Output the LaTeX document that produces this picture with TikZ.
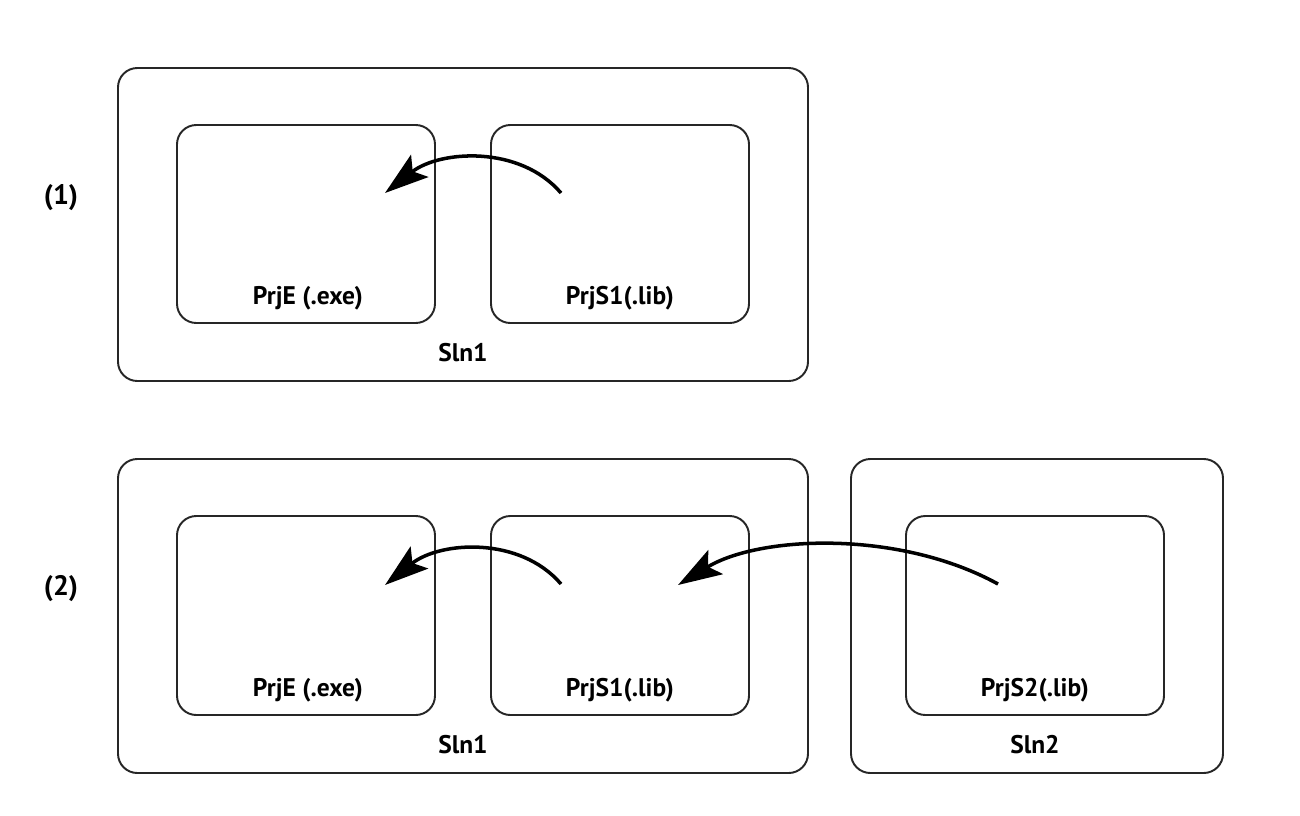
\documentclass[tikz,border=0pt]{standalone}
\usepackage{fontspec}
\setmainfont{PT Sans}
\usetikzlibrary{arrows.meta}
\begin{document}
\begin{tikzpicture}[x=0.02cm,y=-0.02cm,
  box/.style={draw=black!85,line width=1.1pt,rounded corners=11pt,inner sep=0pt},
  lbl/.style={font=\bfseries\fontsize{14.5}{16}\selectfont,inner sep=0pt,anchor=base},
  num/.style={font=\bfseries\fontsize{16}{18}\selectfont,inner sep=0pt,anchor=base},
  dep/.style={line width=2pt,-{Stealth[length=25pt,width=16pt,inset=5pt]}}]
\useasboundingbox (0,0) rectangle (1300,815);
% row 1
\node[box,minimum width=690*0.02cm,minimum height=313*0.02cm] (s1a) at (463,224.5) {};
\node[box,minimum width=258*0.02cm,minimum height=198*0.02cm] (ea) at (306,224) {};
\node[box,minimum width=258*0.02cm,minimum height=198*0.02cm] (la) at (620,224) {};
\node[lbl] (tea) at (308,304) {PrjE (.exe)};
\node[lbl] (tla) at (620,304) {PrjS1(.lib)};
\node[lbl] (ts1a) at (463,361) {Sln1};
\node[num] (n1) at (61,204) {(1)};
\coordinate (a1s) at (561,193);
\coordinate (a1e) at (385,193);
\draw[dep] (a1s) .. controls (520,145) and (440,150) .. (a1e);
% row 2
\node[box,minimum width=690*0.02cm,minimum height=314*0.02cm] (s1b) at (463,616) {};
\node[box,minimum width=258*0.02cm,minimum height=199*0.02cm] (eb) at (306,615.5) {};
\node[box,minimum width=258*0.02cm,minimum height=199*0.02cm] (lb) at (620,615.5) {};
\node[box,minimum width=372*0.02cm,minimum height=314*0.02cm] (s2) at (1037,616) {};
\node[box,minimum width=258*0.02cm,minimum height=199*0.02cm] (l2) at (1035,615.5) {};
\node[lbl] (teb) at (308,696) {PrjE (.exe)};
\node[lbl] (tlb) at (620,696) {PrjS1(.lib)};
\node[lbl] (tl2) at (1035,696) {PrjS2(.lib)};
\node[lbl] (ts1b) at (463,753) {Sln1};
\node[lbl] (ts2) at (1035,753) {Sln2};
\node[num] (n2) at (61,595) {(2)};
\coordinate (b1s) at (561,584);
\coordinate (b1e) at (385,585);
\draw[dep] (b1s) .. controls (520,536) and (440,541) .. (b1e);
\coordinate (b2s) at (998,584);
\coordinate (b2e) at (678,585);
\draw[dep] (b2s) .. controls (900,530) and (760,535) .. (b2e);
\end{tikzpicture}
\end{document}
